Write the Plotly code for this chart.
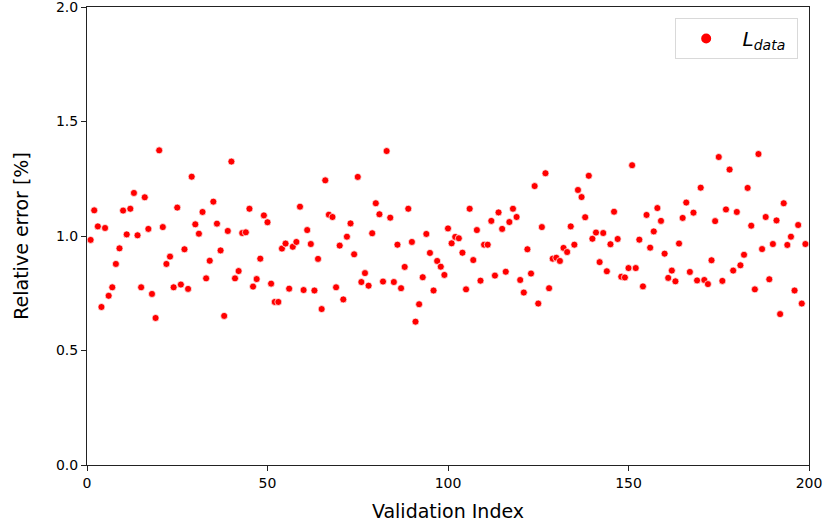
import plotly.graph_objects as go

indices = list(range(1, 200))
rel_error = [
    0.983, 1.112, 1.042, 0.690, 1.035, 0.739, 0.776, 0.878, 0.946, 1.111,
    1.007, 1.119, 1.188, 1.003, 0.776, 1.169, 1.031, 0.747, 0.642, 1.374,
    1.039, 0.878, 0.910, 0.776, 1.124, 0.788, 0.942, 0.769, 1.259, 1.051,
    1.010, 1.105, 0.815, 0.892, 1.150, 1.054, 0.937, 0.651, 1.022, 1.325,
    0.815, 0.847, 1.013, 1.016, 1.119, 0.779, 0.812, 0.901, 1.090, 1.060,
    0.792, 0.712, 0.712, 0.945, 0.967, 0.770, 0.953, 0.974, 1.128, 0.764,
    1.026, 0.965, 0.762, 0.900, 0.681, 1.243, 1.093, 1.083, 0.776, 0.958,
    0.723, 0.997, 1.055, 0.920, 1.258, 0.799, 0.838, 0.783, 1.012, 1.143,
    1.095, 0.801, 1.371, 1.080, 0.799, 0.962, 0.772, 0.865, 1.119, 0.974,
    0.626, 0.702, 0.820, 1.009, 0.926, 0.762, 0.891, 0.866, 0.830, 1.033,
    0.968, 0.996, 0.990, 0.927, 0.767, 1.119, 0.895, 1.026, 0.805, 0.962,
    0.962, 1.066, 0.827, 1.103, 1.031, 0.844, 1.061, 1.119, 1.083, 0.808,
    0.753, 0.942, 0.836, 1.218, 0.705, 1.039, 1.274, 0.772, 0.901, 0.905,
    0.891, 0.948, 0.930, 1.042, 0.962, 1.201, 1.170, 1.082, 1.263, 0.988,
    1.015, 0.886, 1.013, 0.846, 0.964, 1.106, 0.987, 0.822, 0.819, 0.860,
    1.309, 0.860, 0.984, 0.780, 1.092, 0.949, 1.020, 1.122, 1.066, 0.923,
    0.817, 0.849, 0.802, 0.967, 1.079, 1.146, 0.843, 1.102, 0.806, 1.211,
    0.808, 0.790, 0.894, 1.065, 1.345, 0.804, 1.116, 1.290, 0.849, 1.105,
    0.872, 0.918, 1.210, 1.045, 0.767, 1.358, 0.943, 1.083, 0.811, 0.965,
    1.068, 0.659, 1.143, 0.961, 0.997, 0.762, 1.048, 0.705, 0.965,
]
x_ticks = [0, 50, 100, 150, 200]
y_ticks = [0.0, 0.5, 1.0, 1.5, 2.0]

fig = go.Figure()
fig.add_trace(go.Scatter(
    x=indices, y=rel_error, mode="markers",
    name="&nbsp;<i>L</i><sub><i>data</i></sub>&nbsp;",
    marker=dict(color="#ff0000", size=7, line=dict(color="white", width=0.7)),
))

axis_common = dict(
    showline=True, linecolor="#222222", linewidth=1, mirror=True,
    ticks="outside", ticklen=5, tickwidth=1, tickcolor="#222222",
    showgrid=False, zeroline=False, automargin=False,
    ticklabeloverflow="allow",
    tickfont=dict(family="DejaVu Sans", size=14, color="black"),
    title_font=dict(family="DejaVu Sans", size=19, color="black"),
)
fig.update_xaxes(range=[0, 200], tickvals=x_ticks, title_text="Validation Index",
                 title_standoff=16, **axis_common)
fig.update_yaxes(range=[0, 2.0], tickvals=y_ticks, tickformat=".1f",
                 title_text="Relative error [%]", title_standoff=22, **axis_common)

fig.update_layout(
    width=827, height=522,
    margin=dict(l=87, r=18, t=7, b=57),
    plot_bgcolor="white", paper_bgcolor="white",
    font=dict(family="DejaVu Sans", color="black"),
    showlegend=True,
    legend=dict(
        x=0.985, y=0.976, xanchor="right", yanchor="top",
        bordercolor="#d9d9d9", borderwidth=1, bgcolor="rgba(255,255,255,0.8)",
        font=dict(family="DejaVu Sans", size=20, color="black"),
        itemsizing="constant", itemwidth=50,
    ),
)

fig.write_html(
    "out.html",
    config={"displayModeBar": False},
    post_script=(
        "document.body.style.margin='0';"
        "document.body.style.overflow='hidden';"
        "document.documentElement.style.overflow='hidden';"
    ),
)
